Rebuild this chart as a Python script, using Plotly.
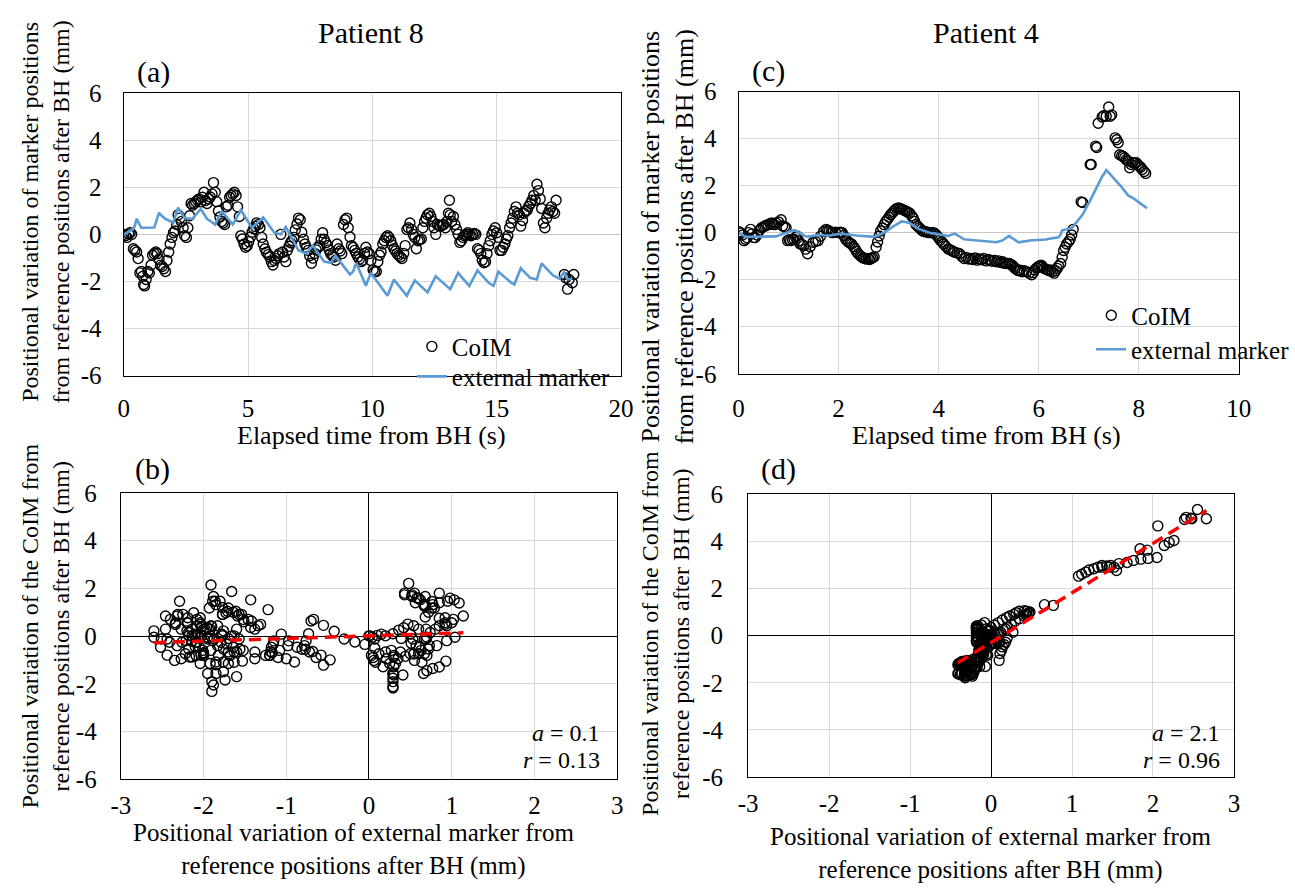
import plotly.graph_objects as go

W, H = 1295, 893
FONT = "Liberation Serif, Times New Roman, serif"

# ---------------- Patient 8 : time (s), CoIM (mm), external marker (mm) ----------------
t8 = [0.00, 0.07, 0.13, 0.20, 0.26, 0.32, 0.39, 0.45, 0.52, 0.58,
      0.65, 0.71, 0.77, 0.80, 0.84, 0.90, 0.97, 1.03, 1.10, 1.16,
      1.23, 1.29, 1.35, 1.42, 1.48, 1.55, 1.61, 1.68, 1.74, 1.81,
      1.87, 1.94, 2.00, 2.06, 2.13, 2.19, 2.26, 2.32, 2.39, 2.45,
      2.52, 2.58, 2.65, 2.71, 2.77, 2.84, 2.90, 2.97, 3.03, 3.10,
      3.16, 3.23, 3.29, 3.35, 3.42, 3.48, 3.55, 3.61, 3.68, 3.74,
      3.81, 3.87, 3.94, 4.00, 4.06, 4.13, 4.19, 4.26, 4.32, 4.39,
      4.45, 4.52, 4.58, 4.65, 4.71, 4.77, 4.84, 4.90, 4.97, 5.03,
      5.10, 5.16, 5.23, 5.29, 5.35, 5.42, 5.48, 5.55, 5.61, 5.68,
      5.74, 5.81, 5.87, 5.94, 6.00, 6.06, 6.13, 6.19, 6.26, 6.32,
      6.39, 6.45, 6.52, 6.58, 6.65, 6.71, 6.77, 6.84, 6.90, 6.97,
      7.03, 7.10, 7.16, 7.23, 7.29, 7.35, 7.42, 7.48, 7.55, 7.61,
      7.68, 7.74, 7.81, 7.87, 7.94, 8.00, 8.06, 8.13, 8.19, 8.26,
      8.32, 8.39, 8.45, 8.52, 8.58, 8.65, 8.71, 8.77, 8.84, 8.90,
      8.97, 9.03, 9.10, 9.16, 9.23, 9.29, 9.35, 9.42, 9.48, 9.55,
      9.61, 9.68, 9.74, 9.80, 9.87, 9.94, 10.03, 10.09, 10.16, 10.22,
      10.29, 10.35, 10.42, 10.48, 10.55, 10.61, 10.67, 10.74, 10.80, 10.87,
      10.93, 11.00, 11.06, 11.13, 11.19, 11.26, 11.32, 11.39, 11.45, 11.51,
      11.58, 11.64, 11.71, 11.77, 11.84, 11.90, 11.97, 12.03, 12.10, 12.16,
      12.22, 12.29, 12.35, 12.42, 12.48, 12.55, 12.61, 12.68, 12.74, 12.81,
      12.87, 12.94, 13.00, 13.06, 13.10, 13.13, 13.19, 13.26, 13.32, 13.39,
      13.45, 13.52, 13.58, 13.65, 13.71, 13.77, 13.84, 13.90, 13.97, 14.03,
      14.10, 14.16, 14.23, 14.29, 14.36, 14.42, 14.49, 14.55, 14.61, 14.68,
      14.74, 14.81, 14.87, 14.94, 15.00, 15.07, 15.13, 15.20, 15.26, 15.33,
      15.39, 15.45, 15.52, 15.58, 15.65, 15.71, 15.78, 15.84, 15.91, 15.97,
      16.04, 16.10, 16.16, 16.23, 16.29, 16.36, 16.42, 16.49, 16.55, 16.62,
      16.68, 16.75, 16.81, 16.88, 16.94, 17.01, 17.07, 17.13, 17.20, 17.26,
      17.33, 17.39, 17.52, 17.72, 17.78, 17.85, 17.91, 18.04, 18.10]

coim8 = [0.01, -0.05, -0.12, 0.03, 0.08, 0.01, -0.60, -0.67, -0.74, -1.02,
         -1.63, -1.57, -1.77, -2.12, -2.18, -1.91, -1.57, -1.63, -1.29, -0.88,
         -0.81, -0.74, -0.81, -1.05, -1.30, -1.36, -1.45, -1.57, -1.10, -0.74,
         -0.40, -0.12, 0.08, 0.15, 0.43, 0.84, 0.70, 0.56, 0.29, -0.05,
         -0.12, 0.29, 0.80, 1.32, 1.25, 1.32, 1.40, 1.46, 1.52, 1.39,
         1.59, 1.80, 1.45, 1.32, 1.52, 1.60, 1.73, 2.21, 1.80, 1.40,
         1.00, 0.75, 0.56, 0.49, 0.43, 1.18, 1.25, 1.59, 1.66, 1.73,
         1.80, 1.66, 1.18, 0.77, -0.05, -0.19, -0.40, -0.54, -0.47, -0.30,
         -0.10, 0.10, 0.25, 0.35, 0.50, 0.43, 0.29, -0.12, -0.40, -0.60,
         -0.75, -0.85, -0.95, -1.15, -1.29, -1.10, -1.02, -0.90, -0.81, 0.01,
         -0.74, -0.95, -1.15, -0.67, -0.50, -0.35, -0.25, -0.12, 0.20, 0.45,
         0.70, 0.63, 0.10, -0.20, -0.40, -0.55, -0.67, -0.90, -1.22, -1.00,
         -0.80, -0.65, -0.55, -0.47, -0.20, 0.08, -0.20, -0.35, -0.47, -0.65,
         -0.81, -0.90, -0.95, -1.09, -0.40, -0.60, -0.70, -0.81, 0.43, 0.63,
         0.70, 0.29, -0.10, -0.47, -0.55, -0.67, -0.80, -0.95, -1.05, -1.15,
         -1.09, -0.80, -0.54, -0.74, -0.81, -1.10, -1.50, -1.57, -1.57, -1.15,
         -0.88, -0.74, -0.40, -0.26, -0.12, -0.05, -0.12, -0.26, -0.45, -0.60,
         -0.70, -0.81, -0.88, -0.95, -1.02, -0.80, -0.47, 0.22, 0.29, 0.49,
         0.22, 0.01, -0.12, -0.60, -0.26, -0.22, -0.19, 0.29, 0.56, 0.70,
         0.84, 0.91, 0.77, 0.56, 0.29, 0.01, 0.43, 0.40, 0.36, 0.40,
         0.43, 0.29, 0.56, 0.91, 1.46, 0.84, 0.56, 0.77, 0.43, 0.22,
         0.01, -0.33, -0.26, -0.12, -0.05, 0.01, 0.08, 0.01, -0.05, 0.01,
         0.05, 0.01, -0.60, -0.67, -0.81, -1.09, -1.20, -1.15, -0.81, -0.47,
         -0.26, 0.01, 0.15, 0.29, 0.08, -0.12, -0.67, -0.67, -0.54, -0.40,
         -0.19, -0.05, 0.29, 0.49, 0.70, 0.98, 1.18, 0.91, 0.84, 0.36,
         0.60, 0.91, 1.00, 1.04, 1.20, 1.32, 1.46, 1.66, 1.46, 2.14,
         1.87, 1.52, 1.11, 0.49, 0.29, 0.70, 0.91, 1.04, 1.18, 0.98,
         0.91, 1.46, None, -1.70, -1.84, -2.32, -1.91, -2.05, -1.70]

ext8 = [0.00, 0.04, 0.07, 0.10, 0.15, 0.20, 0.27, 0.38, 0.67, 0.55,
        0.41, 0.29, 0.29, 0.29, 0.29, 0.29, 0.29, 0.30, 0.30, 0.30,
        0.30, 0.50, 0.70, 0.93, 0.85, 0.77, 0.70, 0.66, 0.64, 0.60,
        0.57, 0.53, 0.50, 0.74, 0.94, 1.14, 1.02, 0.92, 0.80, 0.70,
        0.69, 0.69, 0.68, 0.67, 0.67, 0.77, 0.85, 0.95, 1.03, 1.09,
        0.98, 0.85, 0.76, 0.67, 0.62, 0.58, 0.52, 0.48, 0.43, 0.56,
        0.72, 0.85, 1.00, 0.92, 0.85, 0.76, 0.68, 0.60, 0.52, 0.43,
        0.55, 0.68, 0.79, 0.92, 1.04, 0.94, 0.82, 0.72, 0.61, 0.51,
        0.39, 0.29, 0.36, 0.42, 0.47, 0.54, 0.60, 0.67, 0.73, 0.63,
        0.54, 0.44, 0.35, 0.25, 0.17, 0.08, 0.06, 0.05, 0.03, 0.01,
        0.12, 0.21, 0.32, 0.20, 0.07, -0.05, -0.17, -0.30, -0.42, -0.55,
        -0.67, -0.70, -0.73, -0.76, -0.78, -0.81, -0.72, -0.64, -0.55, -0.47,
        -0.58, -0.68, -0.77, -0.87, -0.97, -1.06, -1.15, -1.16, -1.18, -1.19,
        -1.20, -1.10, -1.00, -0.90, -0.98, -1.08, -1.17, -1.25, -1.34, -1.42,
        -1.52, -1.60, -1.70, -1.64, -1.56, -1.38, -1.20, -1.38, -1.53, -1.70,
        -1.85, -2.03, -2.18, -2.00, -1.82, -1.63, -1.76, -1.85, -1.95, -2.04,
        -2.14, -2.22, -2.32, -2.41, -2.51, -2.60, -2.44, -2.26, -2.10, -1.91,
        -2.00, -2.09, -2.17, -2.27, -2.35, -2.44, -2.52, -2.60, -2.46, -2.34,
        -2.20, -2.09, -1.95, -2.01, -2.08, -2.14, -2.21, -2.27, -2.34, -2.40,
        -2.46, -2.31, -2.19, -2.04, -1.92, -1.77, -1.83, -1.90, -1.96, -2.02,
        -2.08, -2.14, -2.20, -2.25, -2.29, -2.32, -2.19, -2.04, -1.91, -1.76,
        -1.63, -1.72, -1.79, -1.87, -1.95, -2.02, -2.11, -2.18, -2.04, -1.92,
        -1.78, -1.66, -1.52, -1.60, -1.68, -1.76, -1.85, -1.92, -2.00, -2.05,
        -2.09, -2.14, -2.18, -1.98, -1.78, -1.57, -1.63, -1.70, -1.76, -1.83,
        -1.89, -1.95, -2.00, -2.04, -2.08, -2.12, -1.93, -1.77, -1.59, -1.43,
        -1.51, -1.57, -1.64, -1.71, -1.77, -1.85, -1.86, -1.88, -1.89, -1.91,
        -1.66, -1.43, -1.22, -1.31, -1.38, -1.46, -1.54, -1.61, -1.70, -1.73,
        -1.77, -1.80, -1.87, -1.60, -1.74, -1.90, -1.90, -1.88, None]

# ---------------- Patient 4 ----------------
t4 = [0.01, 0.05, 0.08, 0.11, 0.14, 0.17, 0.20, 0.24, 0.27, 0.30,
      0.33, 0.37, 0.42, 0.46, 0.50, 0.53, 0.56, 0.59, 0.63, 0.66,
      0.69, 0.72, 0.75, 0.80, 0.85, 0.88, 0.92, 0.95, 0.98, 1.01,
      1.04, 1.08, 1.11, 1.14, 1.17, 1.20, 1.23, 1.27, 1.30, 1.34,
      1.38, 1.43, 1.49, 1.54, 1.59, 1.64, 1.70, 1.75, 1.78, 1.81,
      1.85, 1.88, 1.94, 2.01, 2.04, 2.07, 2.10, 2.14, 2.17, 2.20,
      2.23, 2.26, 2.30, 2.33, 2.36, 2.39, 2.43, 2.46, 2.49, 2.52,
      2.55, 2.59, 2.62, 2.65, 2.68, 2.71, 2.75, 2.78, 2.81, 2.84,
      2.88, 2.91, 2.94, 2.97, 3.01, 3.04, 3.07, 3.10, 3.13, 3.16,
      3.20, 3.23, 3.26, 3.29, 3.33, 3.36, 3.39, 3.42, 3.46, 3.49,
      3.52, 3.55, 3.58, 3.61, 3.65, 3.68, 3.71, 3.74, 3.78, 3.81,
      3.85, 3.90, 3.94, 3.97, 4.00, 4.03, 4.07, 4.10, 4.14, 4.19,
      4.22, 4.26, 4.29, 4.32, 4.37, 4.42, 4.46, 4.51, 4.55, 4.60,
      4.64, 4.68, 4.73, 4.77, 4.81, 4.86, 4.90, 4.95, 4.99, 5.03,
      5.07, 5.12, 5.16, 5.20, 5.24, 5.28, 5.31, 5.34, 5.38, 5.41,
      5.44, 5.47, 5.50, 5.53, 5.57, 5.60, 5.63, 5.67, 5.71, 5.76,
      5.81, 5.86, 5.89, 5.92, 5.96, 5.99, 6.02, 6.05, 6.08, 6.11,
      6.15, 6.18, 6.21, 6.24, 6.27, 6.31, 6.34, 6.37, 6.40, 6.44,
      6.47, 6.50, 6.53, 6.56, 6.60, 6.63, 6.66, 6.69, 6.85, 6.88,
      7.03, 7.05, 7.14, 7.16, 7.19, 7.27, 7.30, 7.35, 7.40, 7.43,
      7.46, 7.53, 7.56, 7.59, 7.62, 7.66, 7.69, 7.72, 7.75, 7.79,
      7.82, 7.85, 7.88, 7.92, 7.95, 7.98, 8.01, 8.04, 8.07, 8.11,
      8.14, 8.17]

coim4 = [0.04, -0.02, -0.10, -0.34, -0.28, -0.21, 0.00, 0.14, -0.05, -0.21,
         -0.21, -0.10, 0.10, 0.21, 0.25, 0.28, 0.32, 0.34, 0.38, 0.41,
         0.36, 0.34, 0.41, 0.45, 0.55, 0.28, 0.25, 0.21, -0.34, -0.30,
         -0.34, -0.30, -0.28, -0.20, -0.14, -0.35, -0.48, -0.50, -0.55, -0.70,
         -0.90, -0.60, -0.41, -0.38, -0.34, -0.15, 0.05, 0.14, 0.10, 0.07,
         0.03, 0.00, 0.02, 0.00, 0.02, 0.00, -0.12, -0.28, -0.35, -0.41,
         -0.45, -0.48, -0.60, -0.69, -0.80, -0.90, -0.97, -1.03, -1.07, -1.10,
         -1.12, -1.10, -1.14, -1.10, -1.07, -1.03, -0.62, -0.40, -0.14, 0.07,
         0.20, 0.34, 0.45, 0.55, 0.66, 0.76, 0.83, 0.90, 0.97, 1.03,
         1.05, 1.03, 1.00, 0.97, 0.93, 0.90, 0.87, 0.83, 0.72, 0.62,
         0.48, 0.34, 0.28, 0.21, 0.14, 0.07, 0.05, 0.04, 0.02, 0.00,
         0.00, 0.00, -0.07, -0.14, -0.22, -0.32, -0.40, -0.48, -0.58, -0.69,
         -0.72, -0.76, -0.80, -0.83, -0.86, -0.90, -1.00, -1.10, -1.05, -1.12,
         -1.10, -1.14, -1.08, -1.17, -1.12, -1.15, -1.10, -1.20, -1.14, -1.17,
         -1.22, -1.18, -1.24, -1.20, -1.27, -1.24, -1.30, -1.31, -1.31, -1.31,
         -1.34, -1.38, -1.45, -1.52, -1.59, -1.62, -1.60, -1.66, -1.62, -1.66,
         -1.72, -1.79, -1.70, -1.59, -1.50, -1.45, -1.42, -1.38, -1.45, -1.52,
         -1.56, -1.59, -1.62, -1.59, -1.66, -1.72, -1.62, -1.52, -1.42, -1.31,
         -1.05, -0.76, -0.62, -0.48, -0.38, -0.28, -0.10, 0.14, 1.31, 1.28,
         2.90, 2.90, 3.68, 3.62, 4.65, 4.92, 4.97, 4.95, 5.34, 4.95,
         5.01, 4.03, 3.95, 3.82, 3.31, 3.27, 3.24, 3.18, 3.10, 3.05,
         2.76, 2.90, 2.97, 2.95, 2.97, 2.90, 2.83, 2.78, 2.69, 2.60,
         2.52, None]

ext4 = [-0.01, -0.06, -0.10, -0.14, -0.18, -0.18, -0.18, -0.18, -0.18, -0.18,
        -0.18, -0.18, -0.18, -0.18, -0.18, -0.18, -0.18, -0.18, -0.18, -0.18,
        -0.18, -0.18, -0.16, -0.12, -0.08, -0.06, -0.03, -0.01, 0.01, 0.03,
        0.06, 0.09, 0.11, 0.08, 0.04, 0.00, -0.03, -0.07, -0.11, -0.15,
        -0.17, -0.15, -0.13, -0.10, -0.08, -0.09, -0.11, -0.12, -0.13, -0.14,
        -0.12, -0.10, -0.07, -0.04, -0.05, -0.05, -0.06, -0.07, -0.08, -0.09,
        -0.09, -0.10, -0.10, -0.11, -0.12, -0.13, -0.13, -0.14, -0.14, -0.15,
        -0.15, -0.16, -0.16, -0.17, -0.17, -0.18, -0.14, -0.12, -0.09, -0.06,
        -0.03, 0.00, 0.04, 0.09, 0.14, 0.19, 0.23, 0.28, 0.31, 0.35,
        0.41, 0.44, 0.48, 0.47, 0.46, 0.44, 0.43, 0.41, 0.35, 0.30,
        0.25, 0.20, 0.18, 0.15, 0.12, 0.10, 0.08, 0.05, 0.02, 0.00,
        -0.02, -0.03, -0.04, -0.05, -0.06, -0.08, -0.09, -0.10, -0.12, -0.14,
        -0.11, -0.09, -0.06, -0.04, -0.10, -0.17, -0.22, -0.28, -0.29, -0.30,
        -0.31, -0.32, -0.32, -0.33, -0.34, -0.35, -0.36, -0.37, -0.37, -0.38,
        -0.39, -0.40, -0.41, -0.38, -0.36, -0.33, -0.28, -0.24, -0.17, -0.14,
        -0.19, -0.24, -0.28, -0.32, -0.37, -0.41, -0.40, -0.38, -0.36, -0.33,
        -0.32, -0.32, -0.32, -0.32, -0.32, -0.32, -0.32, -0.32, -0.31, -0.30,
        -0.29, -0.27, -0.26, -0.25, -0.24, -0.23, -0.22, -0.21, -0.20, -0.07,
        0.10, 0.11, 0.13, 0.14, 0.16, 0.18, 0.20, 0.27, 0.66, 0.77,
        1.37, 1.46, 1.84, 1.93, 2.06, 2.39, 2.47, 2.66, 2.55, 2.48,
        2.41, 2.26, 2.20, 2.14, 2.05, 1.94, 1.85, 1.76, 1.68, 1.58,
        1.55, 1.52, 1.48, 1.43, 1.37, 1.32, 1.27, 1.21, 1.17, 1.12,
        1.08, 1.06]

# regression results shown in panels (b) and (d): slope, intercept
fit8 = (0.11, 0.01)
fit4 = (2.1, -0.29)
stats8 = {"a": "0.1", "r": "0.13"}
stats4 = {"a": "2.1", "r": "0.96"}

x_ticks_time8 = [0, 5, 10, 15, 20]
x_ticks_time4 = [0, 2, 4, 6, 8, 10]
y_ticks = [-6, -4, -2, 0, 2, 4, 6]
x_ticks_ext = [-3, -2, -1, 0, 1, 2, 3]

BLUE = "#5B9BD5"
GRID = "#d9d9d9"


def pairs(ext, coim):
    xs, ys = [], []
    for e, c in zip(ext, coim):
        if e is not None and c is not None:
            xs.append(e)
            ys.append(c)
    return xs, ys


def px(x):
    return x / W


def py(y):
    return 1 - y / H


def labels(vals):
    return [str(v) for v in vals]  # plain hyphen-minus like the original


circle = dict(symbol="circle-open", size=10, color="black", line=dict(width=1.4, color="black"))

fig = go.Figure()

# (a)
fig.add_trace(go.Scatter(x=t8, y=coim8, mode="markers", marker=circle, name="CoIM",
                         xaxis="x", yaxis="y", legend="legend"))
fig.add_trace(go.Scatter(x=t8, y=ext8, mode="lines", line=dict(color=BLUE, width=2.6),
                         connectgaps=True, name="external marker", xaxis="x", yaxis="y", legend="legend3"))
# (c)
fig.add_trace(go.Scatter(x=t4, y=coim4, mode="markers", marker=circle, name="CoIM",
                         xaxis="x2", yaxis="y2", legend="legend2"))
fig.add_trace(go.Scatter(x=t4, y=ext4, mode="lines", line=dict(color=BLUE, width=2.6),
                         connectgaps=True, name="external marker", xaxis="x2", yaxis="y2", legend="legend4"))

# (b)
bx, by = pairs(ext8, coim8)
fig.add_trace(go.Scatter(x=bx, y=by, mode="markers", marker=circle, showlegend=False,
                         xaxis="x3", yaxis="y3"))
lx = [min(bx), max(bx)]
fig.add_trace(go.Scatter(x=lx, y=[fit8[0] * v + fit8[1] for v in lx], mode="lines",
                         line=dict(color="#FF0000", width=3.5, dash="12px,7px"),
                         showlegend=False, xaxis="x3", yaxis="y3"))
# (d)
dx, dy = pairs(ext4, coim4)
fig.add_trace(go.Scatter(x=dx, y=dy, mode="markers", marker=circle, showlegend=False,
                         xaxis="x4", yaxis="y4"))
lx4 = [min(dx), max(dx)]
fig.add_trace(go.Scatter(x=lx4, y=[fit4[0] * v + fit4[1] for v in lx4], mode="lines",
                         line=dict(color="#FF0000", width=3.5, dash="12px,7px"),
                         showlegend=False, xaxis="x4", yaxis="y4"))

tickfont = dict(family=FONT, size=25, color="black")


def xax(domain, rng, ticks, anchor, ticklen, zero=False):
    return dict(domain=domain, range=rng, tickvals=ticks, ticktext=labels(ticks), anchor=anchor,
                showgrid=True, gridcolor=GRID, gridwidth=1,
                showline=True, linecolor="black", linewidth=1.3, mirror=True,
                zeroline=zero, zerolinecolor="black", zerolinewidth=1.3,
                ticks="outside", ticklen=ticklen, tickcolor="rgba(0,0,0,0)",
                tickfont=tickfont, fixedrange=True)


def yax(domain, anchor, zero_color, ticklen):
    return dict(domain=domain, range=[-6, 6], tickvals=y_ticks, ticktext=labels(y_ticks), anchor=anchor,
                showgrid=True, gridcolor=GRID, gridwidth=1,
                showline=True, linecolor="black", linewidth=1.3, mirror=True,
                zeroline=True, zerolinecolor=zero_color, zerolinewidth=1.3,
                ticks="outside", ticklen=ticklen, tickcolor="rgba(0,0,0,0)",
                tickfont=tickfont, fixedrange=True)


legend_common = dict(bgcolor="rgba(0,0,0,0)", borderwidth=0,
                     font=dict(family=FONT, size=25, color="black"),
                     xanchor="left", yanchor="middle", itemwidth=30, tracegroupgap=0)

fig.update_layout(
    width=W, height=H, autosize=False,
    margin=dict(l=0, r=0, t=0, b=0),
    paper_bgcolor="white", plot_bgcolor="white",
    font=dict(family=FONT, color="black"),
    xaxis=xax([px(118), px(634)], [0, 20], x_ticks_time8, "y", 10),
    yaxis=yax([py(374), py(83)], "x", "#c6c6c6", 16),
    xaxis2=xax([px(756), px(1275)], [0, 10], x_ticks_time4, "y2", 12),
    yaxis2=yax([py(372), py(81)], "x2", "#c6c6c6", 16),
    xaxis3=xax([px(115), px(630)], [-3, 3], x_ticks_ext, "y3", 4, zero=True),
    yaxis3=yax([py(790), py(495)], "x3", "black", 18),
    xaxis4=xax([px(766), px(1270)], [-3, 3], x_ticks_ext, "y4", 4, zero=True),
    yaxis4=yax([py(788), py(496)], "x4", "black", 19),
    legend=dict(x=px(417), y=py(344), **legend_common),
    legend3=dict(x=px(417), y=py(375), **legend_common),
    legend2=dict(x=px(1122), y=py(312), **legend_common),
    legend4=dict(x=px(1122), y=py(347), **legend_common),
)

ann = []


def text(x, y, s, size=24, angle=0, xanchor="center"):
    ann.append(dict(x=px(x), y=py(y), xref="paper", yref="paper", text=s, showarrow=False,
                    textangle=angle, xanchor=xanchor, yanchor="middle",
                    font=dict(family=FONT, size=size, color="black")))


text(375, 20, "Patient 8", 30)
text(1013, 20, "Patient 4", 30)
text(149, 61, "(a)", 30)
text(787, 60, "(c)", 30)
text(148, 470, "(b)", 30)
text(797, 470, "(d)", 30)

text(37, 205, "Positional variation of marker positions<br>from reference positions after BH (mm)", 24, -90)
text(682, 231, "Positional variation of marker positions<br>from reference positions after BH (mm)", 26, -90)
text(37, 632, "Positional variation of the CoIM from<br>reference positions after BH (mm)", 24, -90)
text(680, 640, "Positional variation of the CoIM from<br>reference positions after BH (mm)", 24, -90)

text(375, 436, "Elapsed time from BH (s)", 26)
text(1013, 436, "Elapsed time from BH (s)", 26)
text(356, 863, "Positional variation of external marker from<br>reference positions after BH (mm)", 25)
text(1017, 867, "Positional variation of external marker from<br>reference positions after BH (mm)", 25)

text(614, 742, "<i>a</i> = " + stats8["a"], 24, 0, "right")
text(614, 770, "<i>r</i> = " + stats8["r"], 24, 0, "right")
text(1258, 742, "<i>a</i> = " + stats4["a"], 24, 0, "right")
text(1258, 770, "<i>r</i> = " + stats4["r"], 24, 0, "right")

fig.update_layout(annotations=ann)

fig.write_html("out.html", config={"displayModeBar": False})
